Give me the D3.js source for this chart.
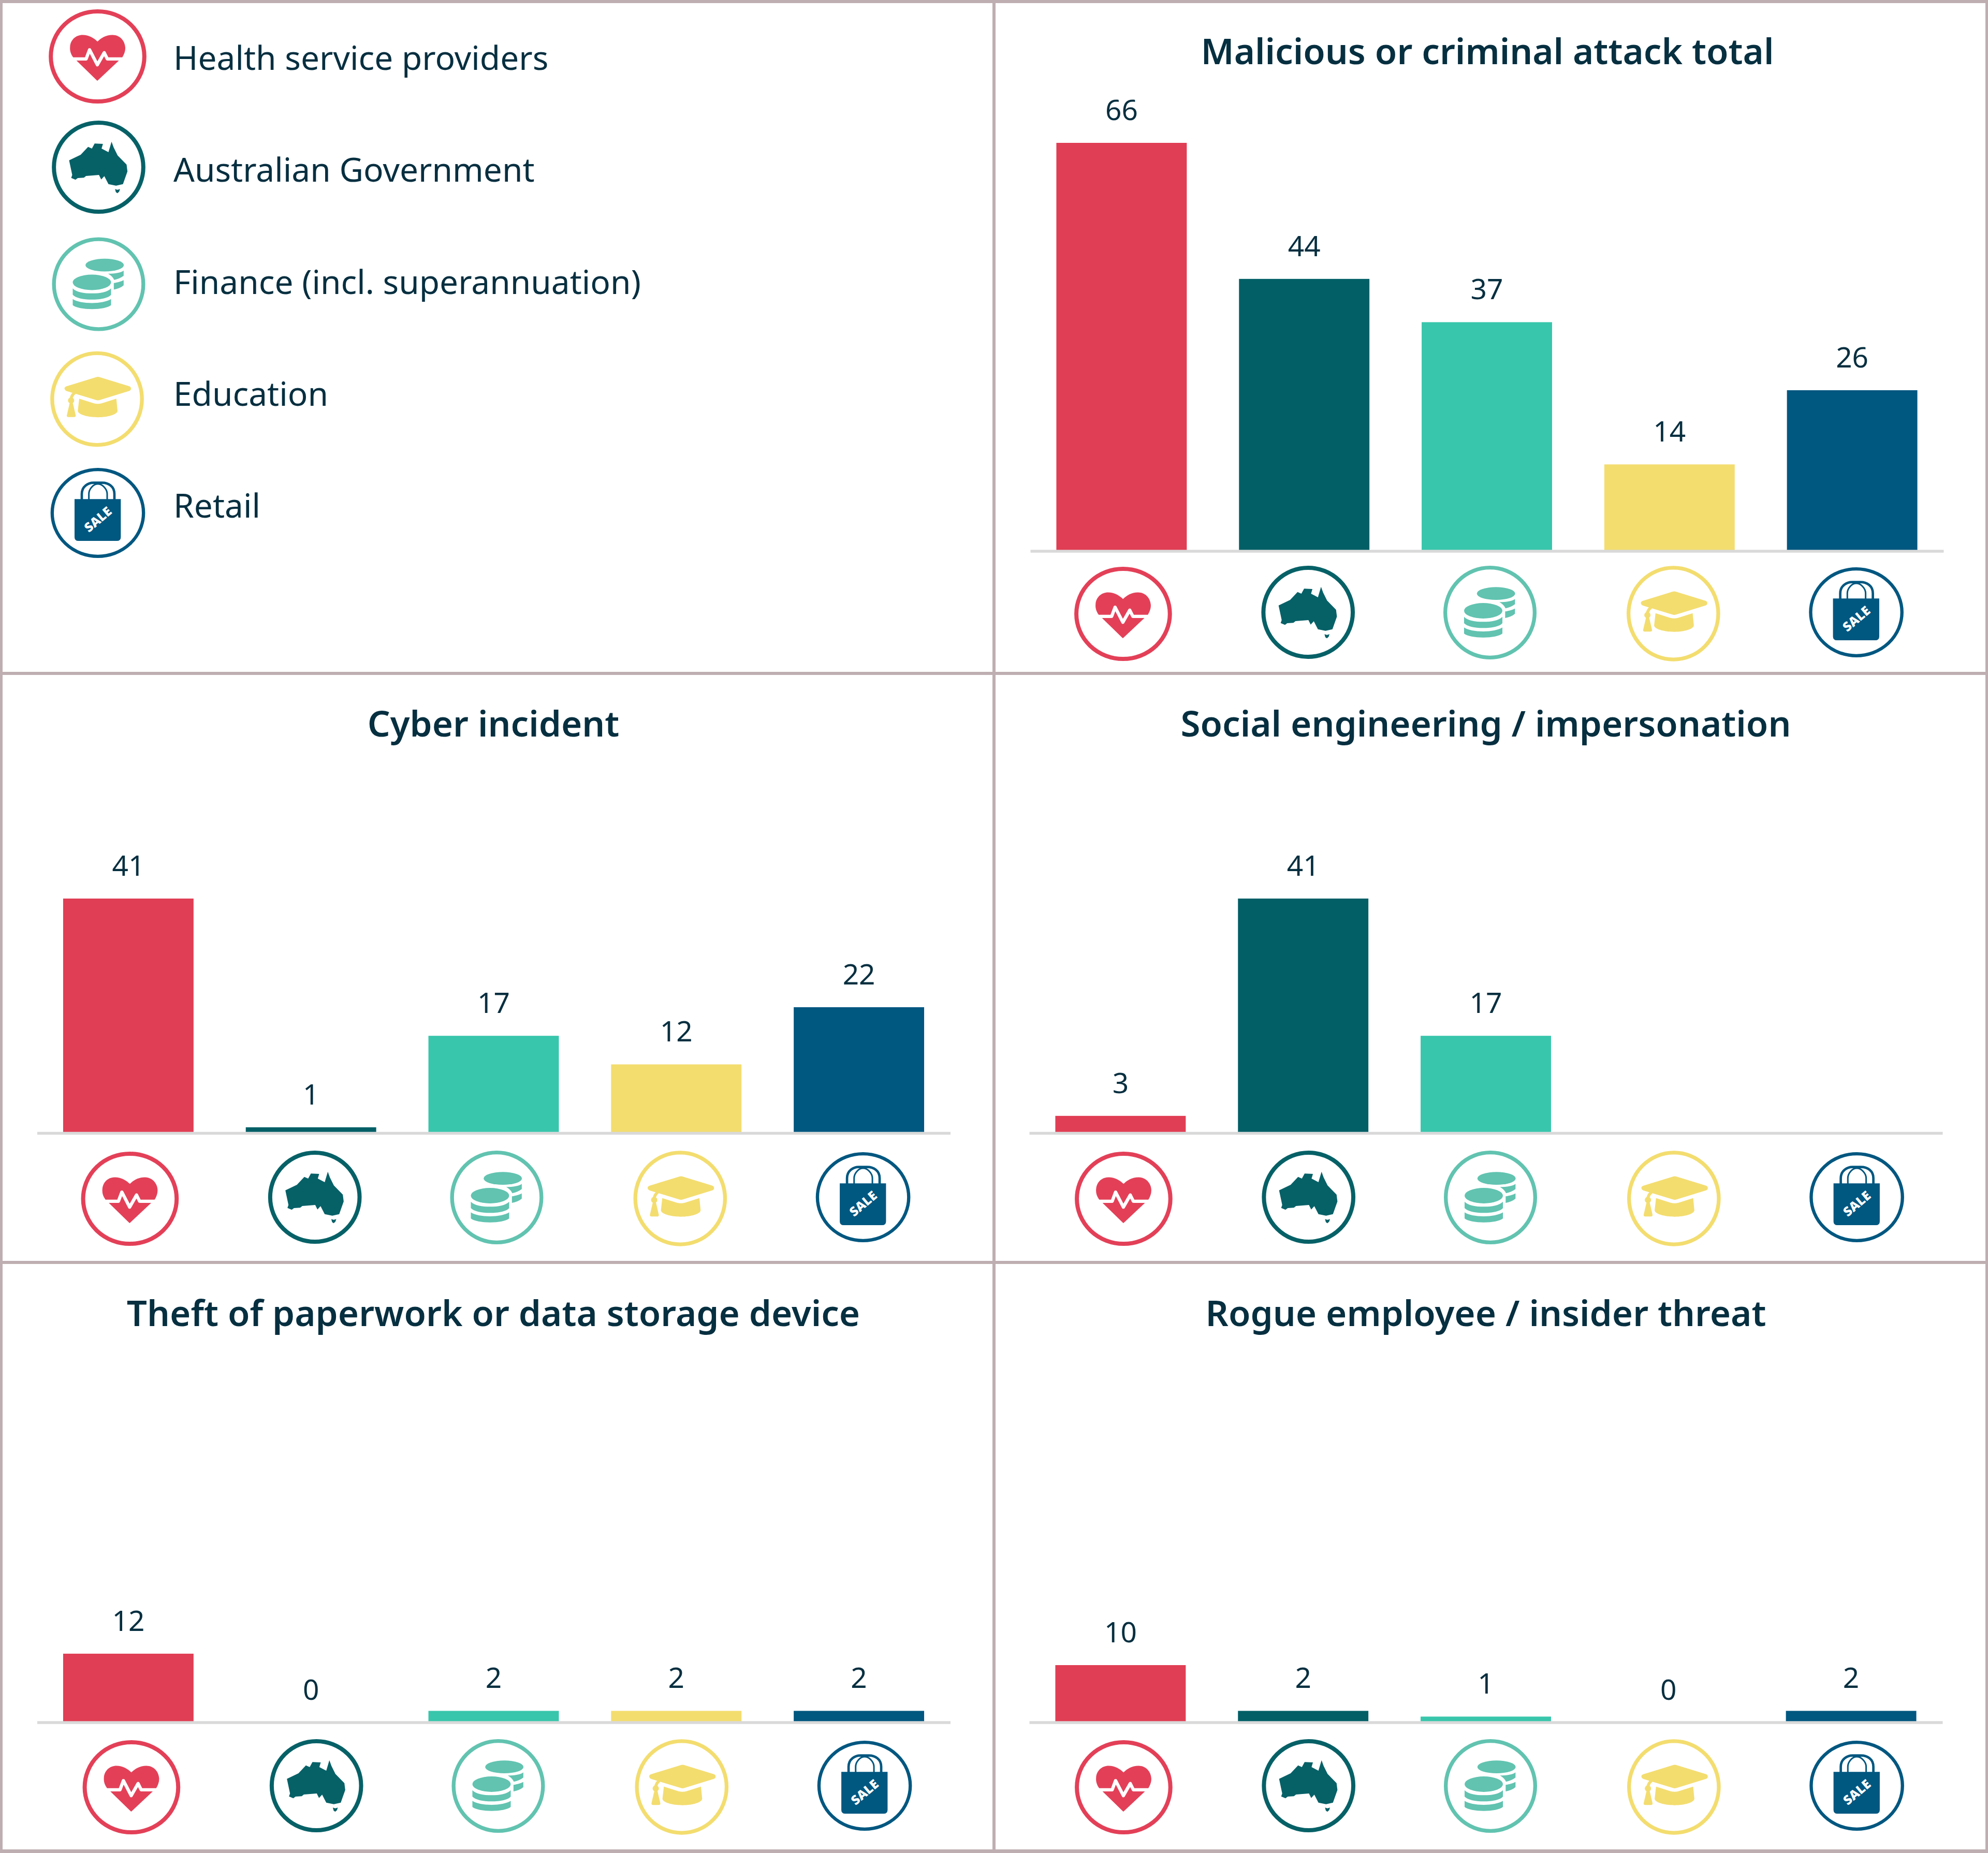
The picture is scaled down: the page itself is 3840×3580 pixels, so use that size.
<!DOCTYPE html>
<html>
<head>
<meta charset="utf-8">
<script src="https://cdn.jsdelivr.net/npm/d3@7"></script>
<style>
  html, body { margin: 0; padding: 0; background: #fff; }
  svg { display: block; }
  text { font-family: "Noto Sans", sans-serif; fill: #062f40; }
</style>
</head>
<body>
<div id="chart"></div>
<script>
// data
const categories = ["Health service providers", "Australian Government", "Finance (incl. superannuation)", "Education", "Retail"];
const malicious = [66, 44, 37, 14, 26];
const cyber = [41, 1, 17, 12, 22];
const social = [3, 41, 17, null, null];   // no bar or label for the last two
const theft = [12, 0, 2, 2, 2];
const rogue = [10, 2, 1, 0, 2];

const barColors = ["#e03e54", "#025f66", "#38c6ac", "#f3dd6f", "#005780"];
const iconColors = ["#e34058", "#066167", "#61c3b0", "#f3dd6f", "#005780"];

const width = 3840, height = 3580;
const border = "#bfaeb1";

const svg = d3.select("#chart").append("svg")
    .attr("width", width)
    .attr("height", height)
    .attr("viewBox", [0, 0, width, height]);

svg.append("rect").attr("width", width).attr("height", height).attr("fill", "#fff");

// panel frame
[[0, 0, width, 6], [0, 3573, width, 7], [0, 1298, width, 6], [0, 2436, width, 6],
 [0, 0, 5, height], [3835, 0, 5, height], [1917, 0, 6, height]].forEach(r => {
    svg.append("rect")
        .attr("x", r[0]).attr("y", r[1]).attr("width", r[2]).attr("height", r[3])
        .attr("fill", border);
});

// The glyphs are drawn in a 600 wide box, ring centre and radii per icon
const iconDraw = [
    function (g, c) { // heart
        g.append("path").attr("fill", c)
            .attr("d", "M160,302 C145,280 140,262 142,240 C145,200 175,172 215,172 C250,172 280,190 301,210 C322,190 350,172 388,172 C430,172 460,205 462,245 C463,265 455,285 445,302 L303,435 Q300,438 297,435 Z");
        g.append("path").attr("fill", "none").attr("stroke", "#fff").attr("stroke-width", 19).attr("stroke-linejoin", "round")
            .attr("d", "M140,311 L235,311 L255,258 L300,345 L340,275 L358,311 L465,311");
    },
    function (g, c) { // australia
        g.append("path").attr("fill", c)
            .attr("d", "M130,260 L197,228 L240,182 L262,192 L278,163 L326,165 L318,192 L358,213 L376,152 L388,185 L411,232 L463,285 L468,325 L442,398 L402,407 L358,398 L334,352 L316,371 L303,345 L228,351 L216,361 L180,363 L167,373 L142,362 L148,345 Z M396,427 L410,431 L425,427 L420,442 L410,451 L401,445 Z");
    },
    function (g, c) { // coins
        g.append("ellipse").attr("cx", 335).attr("cy", 188).attr("rx", 111).attr("ry", 37).attr("fill", c);
        g.append("ellipse").attr("cx", 261).attr("cy", 288).attr("rx", 111).attr("ry", 45).attr("fill", c);
        g.append("path").attr("fill", c)
            .attr("d", "M355,238 C395,238 430,232 445,220 L445,250 C430,262 410,270 390,274 C385,262 375,250 355,238 Z M388,292 C410,288 432,282 445,275 L445,305 C430,318 410,325 388,330 Z M150,323 C170,345 215,352 261,352 C310,352 350,345 372,323 L372,360 C360,378 310,388 261,388 C210,388 165,378 150,360 Z M150,385 C170,400 215,408 261,408 C305,408 350,400 372,385 L372,420 C355,435 310,443 261,443 C215,443 165,435 150,420 Z");
    },
    function (g, c) { // mortarboard
        g.append("path").attr("fill", c)
            .attr("d", "M110,240 Q110,232 122,228 L295,175 Q303,172 312,175 L485,228 Q495,232 495,242 Q495,252 485,255 L315,308 Q303,312 292,308 L122,256 Q110,250 110,240 Z M195,300 L280,327 Q303,333 325,327 L410,300 L417,370 C417,392 360,408 303,408 C245,408 187,392 187,370 Z M140,296 Q145,275 160,263 L175,272 Q162,282 158,296 Z M140,325 L158,325 L175,398 Q175,407 165,407 L132,407 Q123,407 123,398 Z");
        g.append("circle").attr("cx", 148).attr("cy", 311).attr("r", 18).attr("fill", c);
    },
    function (g, c) { // bag
        g.append("path").attr("fill", c)
            .attr("d", "M165,220 L433,220 L433,440 Q433,462 410,462 L188,462 Q165,462 165,440 Z");
        g.append("path").attr("fill", "none").attr("stroke", c).attr("stroke-width", 14)
            .attr("d", "M207,222 V190 C207,145 245,125 275,125 L325,125 C360,125 396,145 396,190 V222");
        g.append("path").attr("fill", "none").attr("stroke", c).attr("stroke-width", 9)
            .attr("d", "M248,222 V190 C248,160 275,132 300,132 C325,132 354,160 354,190 V222");
        g.append("text").attr("transform", "translate(300,337) rotate(-40)")
            .attr("text-anchor", "middle").attr("dy", "0.36em")
            .style("fill", "#fff").style("font-weight", 900).style("font-size", "74px")
            .text("SALE");
    }
];
const iconRings = [
    { cx: 301.5, cy: 296.5, rx: 271, ry: 261, sw: 24 },
    { cx: 301, cy: 300, rx: 259, ry: 258, sw: 24 },
    { cx: 300, cy: 298.5, rx: 259, ry: 260.5, sw: 22 },
    { cx: 298.5, cy: 302.5, rx: 260, ry: 266, sw: 22 },
    { cx: 300, cy: 300, rx: 264.5, ry: 251.5, sw: 19 }
];

function drawIcon(parent, i, x, y) {
    const r = iconRings[i];
    const g = parent.append("g")
        .attr("transform", `translate(${x},${y}) scale(${1 / 3}) translate(${-r.cx},${-r.cy})`);
    g.append("ellipse")
        .attr("cx", r.cx).attr("cy", r.cy).attr("rx", r.rx).attr("ry", r.ry)
        .attr("fill", "none").attr("stroke", iconColors[i]).attr("stroke-width", r.sw);
    iconDraw[i](g, iconColors[i]);
}

// legend
const legendY = d3.scalePoint().domain(categories).range([135, 1000]);
const legendIconPos = [[188.5, 109], [190.5, 323], [190.5, 549], [187.5, 771], [189, 991]];

categories.forEach((c, i) => {
    drawIcon(svg, i, legendIconPos[i][0], legendIconPos[i][1]);
    svg.append("text")
        .attr("x", 335)
        .attr("y", legendY(c))
        .style("font-size", "64px")
        .text(c);
});

// panels
function panel(title, values, xRange, zeroY, maxValue, maxY, titleX, titleY, iconDx, iconBaseY) {
    const x = d3.scaleBand().domain(categories).range(xRange).paddingInner(0.286).paddingOuter(0.143);
    const y = d3.scaleLinear().domain([0, maxValue]).range([zeroY, maxY]);
    const rows = categories.map((c, i) => ({ c, i, v: values[i] }));

    svg.append("text")
        .attr("x", titleX).attr("y", titleY - 1)
        .attr("text-anchor", "middle")
        .style("font-size", "69px").style("font-weight", 600)
        .text(title);

    const g = svg.append("g");

    g.selectAll("rect").data(rows.filter(d => d.v)).join("rect")
        .attr("x", d => x(d.c))
        .attr("y", d => y(d.v))
        .attr("width", x.bandwidth())
        .attr("height", d => y(0) - y(d.v))
        .attr("fill", d => barColors[d.i]);

    g.selectAll("text").data(rows.filter(d => d.v !== null)).join("text")
        .attr("x", d => x(d.c) + x.bandwidth() / 2)
        .attr("y", d => y(d.v) - 44)
        .attr("text-anchor", "middle")
        .style("font-size", "55px")
        .text(d => d.v);

    // axis line sits on top of the bar ends
    const axis = svg.append("g")
        .attr("transform", `translate(0,${zeroY})`)
        .call(d3.axisBottom(x).tickSize(0).tickFormat(""));
    axis.selectAll(".tick").remove();
    axis.select(".domain").attr("stroke", "#d9d9d9").attr("stroke-width", 5.5);

    // icons sit a little to the right of the bars
    const iconX = [3, 7.5, 6, 7.5, 8];
    const iconY = [0, -3, -2.5, -0.5, -3];
    categories.forEach((c, i) => {
        drawIcon(svg, i, x(c) + x.bandwidth() / 2 + iconX[i] + iconDx, iconBaseY + iconY[i]);
    });
}

panel("Malicious or criminal attack total", malicious, [1990, 3754], 1064.5, 66, 276, 2873, 125, 0, 1186);
panel("Cyber incident", cyber, [71.5, 1835.5], 2189, 41, 1736, 953, 1424, 0, 2316);
panel("Social engineering / impersonation", social, [1988, 3752], 2189, 41, 1736, 2870, 1424, 3, 2316);
panel("Theft of paperwork or data storage device", theft, [71.5, 1835.5], 3327.5, 41, 2874.5, 953, 2563, 3, 3453);
panel("Rogue employee / insider threat", rogue, [1988, 3752], 3327.5, 41, 2874.5, 2870, 2563, 3, 3453);
</script>
</body>
</html>
